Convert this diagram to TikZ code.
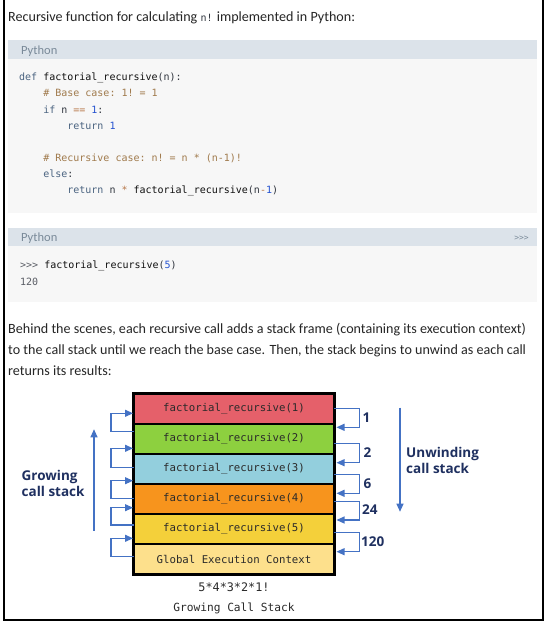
\documentclass[tikz,border=0pt]{standalone}
\usepackage{fontspec}
\setmainfont{Carlito}
\setmonofont{DejaVu Sans Mono}
\newfontfamily\labfont{Open Sans}
\usetikzlibrary{arrows.meta}
\definecolor{hdr}{HTML}{DCE3EA}
\definecolor{codebg}{HTML}{F7F7F7}
\definecolor{hdrtext}{HTML}{7A8A99}
\definecolor{kw}{HTML}{4A6380}
\definecolor{cmt}{HTML}{A07A4C}
\definecolor{op}{HTML}{B8784A}
\definecolor{num}{HTML}{2452D0}
\definecolor{fn}{HTML}{111111}
\definecolor{plain}{HTML}{30353E}
\definecolor{bodytxt}{HTML}{262626}
\definecolor{flow}{HTML}{4472C4}
\definecolor{navy}{HTML}{1F3060}
\definecolor{cred}{HTML}{E5606A}
\definecolor{cgreen}{HTML}{8DD03F}
\definecolor{cblue}{HTML}{93CFDD}
\definecolor{corange}{HTML}{F7941D}
\definecolor{cyellow}{HTML}{F4D03A}
\definecolor{cpale}{HTML}{FDE08C}
\definecolor{stacktxt}{HTML}{2A2A2A}
\newcommand{\K}[1]{\textcolor{kw}{#1}}
\newcommand{\C}[1]{\textcolor{cmt}{#1}}
\newcommand{\Op}[1]{\textcolor{op}{#1}}
\newcommand{\N}[1]{\textcolor{num}{#1}}
\newcommand{\F}[1]{\textcolor{fn}{#1}}
\tikzset{
  codeline/.style={anchor=base west, inner sep=0pt, font=\fontsize{10}{12}\selectfont\ttfamily, text=plain},
  bodyline/.style={anchor=base west, inner sep=0pt, font=\fontsize{14.1}{16}\selectfont, text=bodytxt},
  hdrlabel/.style={anchor=base west, inner sep=0pt, font=\fontsize{12.5}{14}\selectfont, text=hdrtext},
  stackrow/.style={draw=black, line width=2pt, minimum width=200pt, minimum height=30pt, inner sep=0pt, anchor=north, font=\fontsize{10.7}{12}\selectfont\ttfamily, text=stacktxt},
  flowarrow/.style={draw=flow, line width=1.1pt, -{Triangle[length=8pt,width=7pt]}},
  lab/.style={anchor=base west, inner sep=0pt, font=\fontsize{13.5}{15}\selectfont\labfont\bfseries, text=navy},
  numlab/.style={anchor=base west, inner sep=0pt, font=\fontsize{13.5}{15}\selectfont\labfont\bfseries, text=navy},
  caption/.style={anchor=base, inner sep=0pt, font=\ttfamily, text=stacktxt}
}
\begin{document}
\begin{tikzpicture}[x=1pt,y=-1pt]
\useasboundingbox (0,0) rectangle (547,625);
\fill[white] (0,0) rectangle (547,625);
% outer frame (open at top)
\draw[line width=1.5pt, black] (4,0) -- (4,620) -- (543,620) -- (543,0);

% intro line
\node[bodyline] (intro) at (8,21.5) {Recursive function for calculating {\fontsize{10}{12}\selectfont\ttfamily\textcolor{plain}{n!}} implemented in Python:};

% code block 1
\fill[hdr] (8,40) rectangle (537,59);
\fill[codebg] (8,59) rectangle (537,213);
\node[hdrlabel] (h1) at (21,54.5) {Python};
\node[codeline] (c1) at (19,80.8) {\K{def} \F{factorial\_recursive}(n):};
\node[codeline] (c2) at (19,96.95) {\phantom{xxxx}\C{\# Base case: 1! = 1}};
\node[codeline] (c3) at (19,113.1) {\phantom{xxxx}\K{if} n \Op{==} \N{1}:};
\node[codeline] (c4) at (19,129.25) {\phantom{xxxxxxxx}\K{return} \N{1}};
\node[codeline] (c5) at (19,161.55) {\phantom{xxxx}\C{\# Recursive case: n! = n * (n-1)!}};
\node[codeline] (c6) at (19,177.7) {\phantom{xxxx}\K{else}:};
\node[codeline] (c7) at (19,193.85) {\phantom{xxxxxxxx}\K{return} n \Op{*} \F{factorial\_recursive}(n\Op{-}\N{1})};

% code block 2
\fill[hdr] (8,227.5) rectangle (537,246);
\fill[codebg] (8,246) rectangle (537,302);
\node[hdrlabel] (h2) at (21,241.5) {Python};
\node[anchor=base east, inner sep=0pt, font=\fontsize{8}{9}\selectfont\ttfamily, text=hdrtext] (prompt) at (529,240.5) {{>}{>}{>}};
\node[codeline] (d1) at (20,268.5) {\textcolor{plain!80}{{>}{>}{>}} \F{factorial\_recursive}(\N{5})};
\node[codeline, text=plain!80] (d2) at (20,285) {120};

% paragraph
\node[bodyline] (p1) at (8,333) {Behind the scenes, each recursive call adds a stack frame (containing its execution context)};
\node[bodyline] (p2) at (8,354) {to the call stack until we reach the base case. Then, the stack begins to unwind as each call};
\node[bodyline] (p3) at (8,375) {returns its results:};

% stack
\node[stackrow, fill=cred]    (r1) at (234,393) {factorial\_recursive(1)};
\node[stackrow, fill=cgreen]  (r2) at (234,423) {factorial\_recursive(2)};
\node[stackrow, fill=cblue]   (r3) at (234,453) {factorial\_recursive(3)};
\node[stackrow, fill=corange] (r4) at (234,483) {factorial\_recursive(4)};
\node[stackrow, fill=cyellow] (r5) at (234,513) {factorial\_recursive(5)};
\node[stackrow, fill=cpale]   (r6) at (234,543) {Global Execution Context};
\draw[black, line width=2.5pt] (r1.north west) rectangle (r6.south east);

% growing loops (left)
\draw[flowarrow] (134,431.7) -- (111,431.7) -- (111,413.3) -- (r1.west |- 0,413.3);
\draw[flowarrow] (134,467.7) -- (111,467.7) -- (111,448.3) -- (r2.west |- 0,448.3);
\draw[flowarrow] (134,498.3) -- (111,498.3) -- (111,480.7) -- (r3.west |- 0,480.7);
\draw[flowarrow] (134,525)   -- (111,525)   -- (111,507.7) -- (r4.west |- 0,507.7);
\draw[flowarrow] (134,556.7) -- (111,556.7) -- (111,538.3) -- (r5.west |- 0,538.3);

% unwinding loops (right)
\draw[flowarrow] (334,408.3) -- (359.6,408.3) -- (359.6,427.3) -- ([xshift=1.5pt]r2.east |- 0,427.3);
\draw[flowarrow] (334,443.3) -- (359.6,443.3) -- (359.6,462.7) -- ([xshift=1.5pt]r3.east |- 0,462.7);
\draw[flowarrow] (334,474.3) -- (359.6,474.3) -- (359.6,493.3) -- ([xshift=1.5pt]r4.east |- 0,493.3);
\draw[flowarrow] (334,501.7) -- (359.6,501.7) -- (359.6,520)   -- ([xshift=1.5pt]r5.east |- 0,520);
\draw[flowarrow] (334,532.7) -- (359.6,532.7) -- (359.6,551.7) -- ([xshift=1.5pt]r6.east |- 0,551.7);

\node[numlab] (n1) at (362.5,422.5) {1};
\node[numlab] (n2) at (363.5,457.5) {2};
\node[numlab] (n3) at (363.5,488) {6};
\node[numlab] (n4) at (362,514) {24};
\node[numlab] (n5) at (361,546.5) {120};

% big arrows
\coordinate (gb) at (94,530.7);
\coordinate (gt) at (94,429.3);
\draw[flowarrow] (gb) -- (gt);
\coordinate (ut) at (400,407.7);
\coordinate (ub) at (400,511.7);
\draw[flowarrow] (ut) -- (ub);

\node[lab] (grow1) at (21.5,480) {Growing};
\node[lab] (grow2) at (21.5,496) {call stack};
\node[lab] (unw1) at (406,457.5) {Unwinding};
\node[lab] (unw2) at (406,473) {call stack};

% captions
\node[caption, font=\fontsize{11.8}{13}\selectfont\ttfamily] (cap1) at (234,591) {5*4*3*2*1!};
\node[caption, font=\fontsize{11.2}{13}\selectfont\ttfamily] (cap2) at (234,611.5) {Growing Call Stack};
\end{tikzpicture}
\end{document}
